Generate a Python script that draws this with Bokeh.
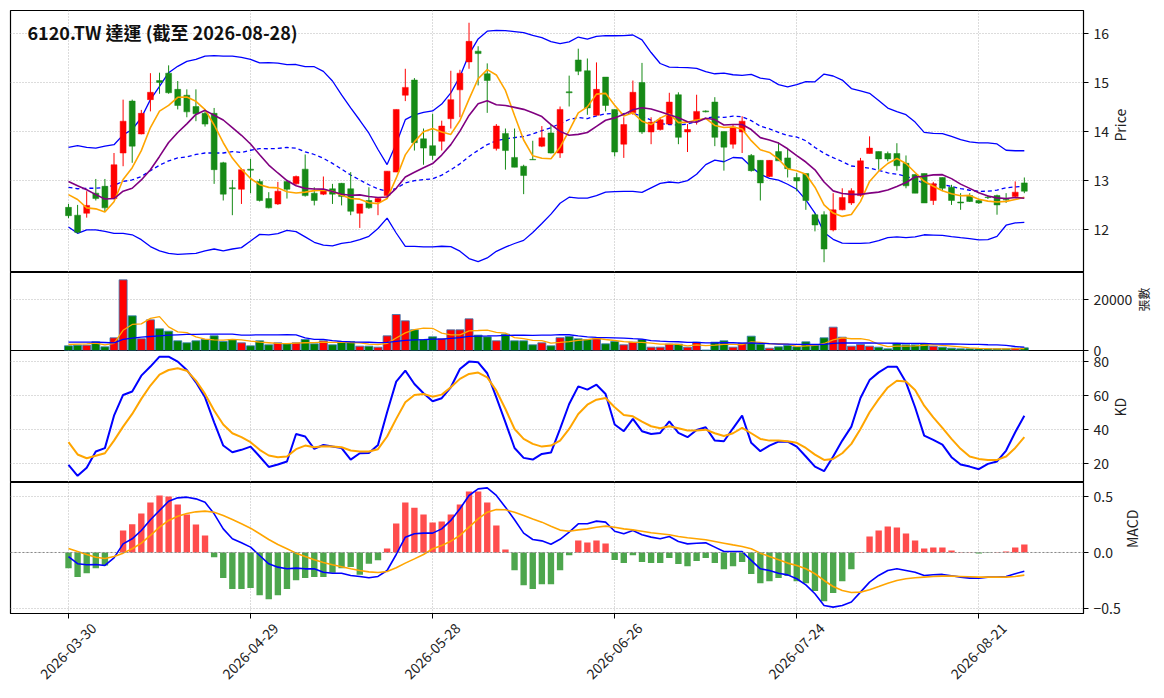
import math
import numpy as np
import pandas as pd
from bokeh.plotting import figure
from bokeh.layouts import column
from bokeh.models import (ColumnDataSource, FixedTicker, Grid, Label, Span, Range1d,
                          LinearAxis)
from bokeh.embed import file_html
from bokeh.resources import INLINE

TITLE = "6120.TW 達運 (截至 2026-08-28)"
TICK_POS = [0, 20, 40, 60, 80, 100]
TICK_LABELS = ["2026-03-30", "2026-04-29", "2026-05-28", "2026-06-26", "2026-07-24", "2026-08-21"]

OPEN = [12.45, 12.29, 12.33, 12.74, 12.88, 12.63, 13.56, 14.62, 13.95, 14.65,
        15.04, 15.19, 14.86, 14.74, 14.51, 14.37, 14.37, 13.36, 12.85, 12.82,
        13.23, 12.98, 12.63, 12.52, 12.98, 12.93, 13.23, 12.74, 12.72, 12.83,
        12.94, 12.83, 12.33, 12.59, 12.56, 12.69, 13.17, 14.74, 15.05, 13.85,
        13.71, 13.80, 14.26, 14.85, 15.42, 15.64, 15.18, 13.65, 13.96, 13.47,
        13.29, 13.43, 13.70, 13.97, 13.56, 14.81, 15.46, 15.24, 14.33, 15.11,
        14.45, 13.74, 14.38, 15.00, 13.99, 14.04, 14.15, 14.75, 13.99, 14.24,
        14.42, 14.60, 14.00, 13.74, 13.99, 13.51, 13.41, 13.08, 13.59, 13.46,
        13.06, 13.14, 12.30, 12.30, 11.99, 12.40, 12.54, 12.69, 13.55, 13.59,
        13.55, 13.55, 13.35, 13.12, 13.14, 12.59, 13.06, 12.86, 12.56, 12.69,
        12.59, 12.66, 12.69, 12.61, 12.67, 12.95]
HIGH = [12.52, 12.50, 12.78, 13.03, 13.03, 13.56, 14.65, 14.65, 14.44, 15.19,
        15.20, 15.35, 15.03, 14.86, 14.86, 14.45, 14.48, 13.38, 13.01, 13.25,
        13.44, 13.03, 12.76, 12.97, 13.01, 13.10, 13.53, 12.86, 13.08, 12.93,
        12.95, 13.17, 12.52, 12.86, 12.64, 13.19, 14.45, 15.28, 15.09, 14.06,
        14.36, 14.22, 15.24, 15.26, 16.22, 15.74, 15.39, 14.15, 14.06, 14.06,
        13.32, 13.81, 14.11, 14.15, 14.51, 15.14, 15.69, 15.49, 15.41, 15.11,
        14.45, 14.29, 15.04, 15.40, 14.29, 14.29, 14.79, 14.80, 14.15, 14.75,
        14.43, 14.70, 14.00, 14.14, 14.31, 13.54, 13.41, 13.41, 13.78, 13.65,
        13.15, 13.14, 12.33, 12.37, 12.74, 12.84, 12.84, 13.46, 13.90, 13.59,
        13.59, 13.76, 13.51, 13.12, 13.14, 12.97, 13.06, 12.91, 12.74, 12.74,
        12.63, 12.70, 12.71, 12.74, 12.98, 13.06]
LOW = [12.23, 11.92, 12.24, 12.59, 12.37, 12.61, 13.29, 13.36, 13.94, 14.41,
       14.77, 14.77, 14.45, 14.29, 14.21, 14.10, 12.93, 12.59, 12.29, 12.52,
       12.74, 12.57, 12.43, 12.50, 12.63, 12.91, 12.67, 12.49, 12.70, 12.52,
       12.49, 12.29, 12.03, 12.42, 12.29, 12.67, 13.17, 14.62, 13.61, 13.32,
       13.42, 13.61, 14.06, 14.29, 15.28, 14.94, 14.38, 13.61, 13.22, 13.27,
       12.72, 13.42, 13.68, 13.55, 13.46, 14.51, 15.15, 14.34, 14.33, 14.41,
       13.49, 13.46, 14.34, 13.95, 13.74, 14.02, 14.15, 13.74, 13.58, 14.14,
       14.39, 13.70, 13.20, 13.65, 13.56, 13.18, 12.59, 13.07, 13.40, 13.06,
       12.78, 12.40, 11.96, 11.33, 11.96, 12.39, 12.50, 12.67, 13.55, 13.22,
       13.39, 13.20, 12.84, 12.74, 12.54, 12.50, 12.78, 12.50, 12.40, 12.56,
       12.52, 12.62, 12.30, 12.54, 12.66, 12.74]
CLOSE = [12.28, 11.94, 12.49, 12.63, 12.44, 13.32, 14.21, 13.70, 14.37, 14.80,
         15.00, 14.79, 14.53, 14.40, 14.36, 14.15, 13.22, 12.72, 12.83, 13.22,
         13.21, 12.59, 12.44, 12.78, 12.82, 13.08, 12.69, 12.59, 12.81, 12.72,
         12.67, 12.37, 12.52, 12.44, 12.63, 13.19, 14.45, 14.90, 13.77, 13.66,
         13.51, 14.11, 14.65, 15.19, 15.84, 15.59, 15.04, 14.11, 13.61, 13.27,
         13.10, 13.42, 13.87, 13.56, 14.45, 14.79, 15.23, 14.48, 14.86, 14.53,
         13.58, 14.14, 14.80, 13.99, 14.19, 14.24, 14.60, 13.88, 14.04, 14.41,
         14.40, 13.88, 13.68, 14.09, 14.21, 13.20, 12.95, 13.41, 13.40, 13.24,
         12.99, 12.59, 12.09, 11.60, 12.40, 12.65, 12.79, 13.40, 13.66, 13.44,
         13.44, 13.30, 12.89, 12.74, 12.54, 12.93, 12.84, 12.59, 12.54, 12.57,
         12.54, 12.65, 12.50, 12.60, 12.76, 12.78]
VOLUME = [1820, 2080, 2080, 3380, 1430, 4940, 27540, 13510, 4550, 11950,
          8440, 7530, 3770, 2990, 3770, 4290, 5720, 3510, 4290, 2990,
          1820, 3770, 2210, 2990, 2600, 2990, 4290, 2600, 3770, 2210,
          3510, 3510, 1690, 1690, 1300, 5720, 14030, 11560, 8050, 4290,
          5330, 4550, 8050, 8050, 12340, 5980, 5330, 3770, 6370, 3770,
          3770, 2210, 2990, 1820, 5000, 5460, 4550, 4290, 4550, 2600,
          3510, 2210, 3250, 4290, 1300, 1300, 2470, 2470, 1300, 3250,
          200, 3250, 3770, 1300, 2860, 5590, 2470, 910, 1430, 1950,
          1430, 3380, 1950, 4940, 9100, 5200, 1690, 2340, 1690, 1300,
          650, 2600, 2210, 2210, 2600, 1690, 1300, 910, 650, 650,
          650, 650, 650, 650, 910, 1040]

# indicator values at the first bars of the window (their look-back lies before the chart)
MA5_START = [12.71, 12.61, 12.44, 12.42]
MA10_START = [12.98, 12.89, 12.81, 12.71, 12.62, 12.63, 12.78, 12.84, 13.01]
MA20_START = [12.86, 12.83, 12.84, 12.84, 12.86, 12.90, 12.98, 13.01, 13.08, 13.20,
              13.31, 13.40, 13.46, 13.48, 13.53, 13.56, 13.56, 13.56, 13.59]
UPPER_START = [13.675, 13.71, 13.675, 13.66, 13.70, 13.73, 13.93, 14.04, 14.28, 14.65,
               14.92, 15.20, 15.33, 15.43, 15.47, 15.54, 15.55, 15.54, 15.54]
LOWER_START = [12.05, 11.92, 11.99, 11.99, 11.96, 11.92, 11.92, 11.89, 11.79, 11.65,
               11.56, 11.51, 11.49, 11.50, 11.51, 11.56, 11.60, 11.56, 11.60]
VMA5_START = [2340, 2470, 2600, 2860]
VMA20_START = [3250, 3250, 3250, 3250, 3120, 3000, 4300, 4800, 5200, 5460,
               5720, 5980, 6120, 6250, 6320, 6370, 6370, 6370, 6370]

K_VALUES = [19.4, 13.0, 17.7, 27.2, 29.2, 48.2, 60.3, 62.3, 71.6, 76.9,
            82.7, 82.7, 79.8, 74.9, 67.7, 58.9, 44.3, 30.7, 26.8, 28.2,
            30.1, 24.3, 18.2, 19.6, 21.4, 37.5, 36.0, 28.8, 31.1, 30.1,
            29.2, 22.5, 26.2, 26.4, 31.1, 50.2, 68.1, 74.5, 66.7, 61.3,
            56.6, 58.4, 64.8, 75.5, 79.8, 79.4, 73.0, 58.9, 44.3, 29.3,
            23.5, 22.5, 25.8, 26.6, 40.5, 55.0, 65.3, 63.4, 66.3, 60.9,
            43.0, 39.1, 46.3, 39.1, 37.5, 38.1, 44.9, 38.1, 35.6, 39.8,
            41.4, 33.6, 33.2, 40.8, 48.2, 32.3, 27.4, 30.7, 33.0, 33.0,
            30.1, 24.3, 18.4, 15.7, 24.3, 33.6, 41.8, 58.5, 69.0, 73.5,
            76.8, 76.8, 67.7, 53.1, 36.5, 34.0, 31.3, 23.9, 19.6, 18.4,
            16.9, 20.0, 21.4, 27.8, 38.5, 48.2]
D_VALUES = [32.7, 25.5, 23.3, 24.7, 26.2, 33.6, 41.8, 49.2, 58.0, 65.8,
            72.2, 74.9, 75.9, 74.5, 68.7, 60.9, 51.2, 43.0, 37.9, 35.6,
            32.7, 28.2, 24.9, 23.9, 24.3, 28.6, 30.7, 29.7, 30.3, 30.1,
            29.7, 27.8, 27.2, 27.2, 28.6, 36.0, 46.3, 56.0, 60.3, 60.9,
            59.3, 60.5, 64.8, 69.7, 72.6, 73.4, 70.6, 62.8, 52.1, 40.4,
            34.6, 31.7, 30.1, 30.7, 33.6, 40.4, 49.2, 54.6, 57.5, 58.5,
            53.1, 48.6, 47.8, 44.7, 42.0, 40.8, 42.0, 40.8, 39.5, 39.5,
            40.0, 37.9, 36.3, 37.9, 41.0, 37.9, 34.6, 33.6, 33.6, 33.2,
            32.3, 29.3, 25.4, 22.3, 22.9, 26.2, 31.7, 40.4, 50.2, 57.9,
            64.7, 68.6, 68.2, 63.2, 54.0, 47.2, 41.0, 34.6, 28.8, 24.3,
            22.9, 22.3, 22.3, 24.3, 29.3, 35.6]
DIF = [-0.036, -0.10, -0.11, -0.107, -0.116, -0.048, 0.077, 0.122, 0.196, 0.292,
       0.375, 0.458, 0.488, 0.494, 0.479, 0.449, 0.345, 0.211, 0.122, 0.086,
       0.048, -0.027, -0.101, -0.131, -0.146, -0.14, -0.146, -0.146, -0.176, -0.185,
       -0.185, -0.205, -0.214, -0.226, -0.214, -0.161, -0.018, 0.137, 0.167, 0.173,
       0.173, 0.211, 0.286, 0.39, 0.509, 0.568, 0.577, 0.509, 0.405, 0.292,
       0.173, 0.116, 0.104, 0.074, 0.118, 0.182, 0.256, 0.256, 0.28, 0.271,
       0.19, 0.167, 0.196, 0.158, 0.137, 0.122, 0.143, 0.098, 0.077, 0.083,
       0.086, 0.048, 0.009, 0.009, 0.009, -0.071, -0.146, -0.161, -0.185, -0.2,
       -0.235, -0.289, -0.369, -0.473, -0.488, -0.473, -0.443, -0.354, -0.265, -0.205,
       -0.161, -0.146, -0.161, -0.176, -0.205, -0.199, -0.196, -0.208, -0.22, -0.229,
       -0.229, -0.22, -0.22, -0.214, -0.19, -0.167]
DEA = [0.036, 0.009, -0.018, -0.042, -0.054, -0.036, -0.006, 0.033, 0.083, 0.152,
       0.226, 0.286, 0.324, 0.348, 0.363, 0.369, 0.36, 0.33, 0.295, 0.256,
       0.217, 0.167, 0.116, 0.071, 0.033, -0.006, -0.036, -0.065, -0.089, -0.11,
       -0.128, -0.146, -0.161, -0.173, -0.179, -0.17, -0.137, -0.095, -0.057, -0.018,
       0.033, 0.063, 0.101, 0.152, 0.226, 0.30, 0.36, 0.384, 0.381, 0.36,
       0.33, 0.30, 0.271, 0.235, 0.20, 0.19, 0.202, 0.211, 0.226, 0.235,
       0.226, 0.211, 0.202, 0.19, 0.176, 0.167, 0.158, 0.143, 0.131, 0.122,
       0.113, 0.098, 0.083, 0.068, 0.054, 0.033, -0.006, -0.036, -0.065, -0.095,
       -0.116, -0.146, -0.19, -0.25, -0.304, -0.339, -0.357, -0.354, -0.333, -0.304,
       -0.274, -0.25, -0.235, -0.226, -0.22, -0.214, -0.211, -0.211, -0.214, -0.217,
       -0.22, -0.22, -0.22, -0.22, -0.214, -0.202]
HIST = [-0.14, -0.22, -0.185, -0.14, -0.116, 0.0, 0.196, 0.253, 0.348, 0.446,
        0.509, 0.50, 0.429, 0.339, 0.25, 0.152, -0.042, -0.229, -0.327, -0.327,
        -0.318, -0.381, -0.417, -0.381, -0.327, -0.247, -0.229, -0.22, -0.22, -0.18,
        -0.14, -0.13, -0.20, -0.10, -0.07, 0.036, 0.259, 0.446, 0.40, 0.339,
        0.268, 0.277, 0.339, 0.429, 0.545, 0.545, 0.446, 0.241, 0.027, -0.158,
        -0.292, -0.327, -0.283, -0.283, -0.158, -0.024, 0.107, 0.089, 0.107, 0.080,
        -0.068, -0.095, -0.024, -0.086, -0.095, -0.095, -0.05, -0.104, -0.122, -0.077,
        -0.05, -0.095, -0.149, -0.122, -0.086, -0.193, -0.274, -0.256, -0.229, -0.211,
        -0.256, -0.274, -0.345, -0.435, -0.363, -0.256, -0.149, 0.005, 0.143, 0.196,
        0.232, 0.223, 0.170, 0.107, 0.036, 0.045, 0.045, 0.018, 0.003, 0.002,
        -0.009, -0.003, 0.002, 0.009, 0.045, 0.071]

FONT = "Noto Sans CJK TC"
UP = "#ff0000"
DOWN = "#168a16"
VOL_UP = "#ff0000"
VOL_DOWN = "#008000"
GRID = "#b8b8b8"
TEXT = "#222222"
LABEL_SHIFT = 2.75  # rotated date labels are centred under their tick
OVERLAP = 12        # room below the volume frame for its "0" tick label


def with_start(series, start):
    arr = np.asarray(series, dtype=float).copy()
    arr[:len(start)] = start
    return arr


n = len(CLOSE)
idx = np.arange(n)
c = pd.Series(CLOSE, dtype=float)
ma5 = with_start(c.rolling(5).mean(), MA5_START)
ma10 = with_start(c.rolling(10).mean(), MA10_START)
mid = c.rolling(20).mean()
sd = c.rolling(20).std()
ma20 = with_start(mid, MA20_START)
upper = with_start(mid + 2 * sd, UPPER_START)
lower = with_start(mid - 2 * sd, LOWER_START)
v = pd.Series(VOLUME, dtype=float)
vma5 = with_start(v.rolling(5).mean(), VMA5_START)
vma20 = with_start(v.rolling(20).mean(), VMA20_START)

up = [cl >= op for op, cl in zip(OPEN, CLOSE)]
candle_color = [UP if u else DOWN for u in up]
vol_color = [VOL_UP if u else VOL_DOWN for u in up]
hist_color = ["#ff4d4d" if h >= 0 else "#4da64d" for h in HIST]

src = ColumnDataSource(dict(
    x=idx, open=OPEN, high=HIGH, low=LOW, close=CLOSE,
    top=[max(o, cc) for o, cc in zip(OPEN, CLOSE)],
    bottom=[min(o, cc) for o, cc in zip(OPEN, CLOSE)],
    ccolor=candle_color, vol=VOLUME, vcolor=vol_color,
    ma5=ma5, ma10=ma10, ma20=ma20, upper=upper, lower=lower,
    vma5=vma5, vma20=vma20, k=K_VALUES, d=D_VALUES,
    dif=DIF, dea=DEA, hist=HIST, hcolor=hist_color,
))

x_range = Range1d(-6.37, 111.5)
FRAME_W = 1073


def make_fig(frame_h, y_range, yticks, ylabel, top_border=0, bottom_border=0,
             bottom_axis=False, label_size="14px"):
    p = figure(
        frame_width=FRAME_W, frame_height=frame_h, x_range=x_range, y_range=y_range,
        output_backend="svg", toolbar_location=None, tools="",
        x_axis_location="below" if bottom_axis else None, y_axis_location="right",
        min_border_left=10, min_border_right=10, min_border_top=top_border,
        min_border_bottom=bottom_border,
        outline_line_color="black", outline_line_width=1.2, outline_line_alpha=1.0,
        background_fill_color="white", border_fill_color="white",
    )
    p.ygrid.ticker = FixedTicker(ticks=yticks)
    p.ygrid.grid_line_color = GRID
    p.ygrid.grid_line_dash = "1 2"
    p.ygrid.grid_line_width = 1
    for g in list(p.xgrid):
        g.visible = False
    p.add_layout(Grid(dimension=0, ticker=FixedTicker(ticks=TICK_POS),
                      grid_line_color=GRID, grid_line_dash="1 2", grid_line_width=1))
    ax = p.yaxis[0]
    ax.ticker = FixedTicker(ticks=yticks)
    ax.axis_label = ylabel
    ax.axis_label_text_font = FONT
    ax.axis_label_text_font_size = label_size
    ax.axis_label_text_font_style = "normal"
    ax.axis_label_text_color = TEXT
    if "axis_label_orientation" in ax.properties():
        ax.axis_label_orientation = math.pi / 2
    ax.major_label_text_font = FONT
    ax.major_label_text_font_size = "14px"
    ax.major_label_text_color = TEXT
    ax.major_tick_out = 5
    ax.major_tick_in = 0
    ax.minor_tick_out = 0
    ax.minor_tick_in = 0
    ax.axis_line_color = "black"
    ax.major_tick_line_color = "black"
    ax.axis_label_standoff = 8
    if bottom_axis:
        xa = p.xaxis[0]
        xa.ticker = FixedTicker(ticks=TICK_POS)
        xa.major_label_overrides = {t: "" for t in TICK_POS}
        xa.major_label_text_font_size = "1px"
        xa.major_label_standoff = 0
        xa.major_tick_out = 5
        xa.major_tick_in = 0
        xa.minor_tick_out = 0
        xa.minor_tick_in = 0
        xa.axis_line_color = "black"
        shifted = [t + LABEL_SHIFT for t in TICK_POS]
        xb = LinearAxis(ticker=FixedTicker(ticks=shifted),
                        major_label_overrides={s: lab for s, lab in zip(shifted, TICK_LABELS)},
                        major_label_orientation=math.pi / 4,
                        major_label_text_font=FONT, major_label_text_font_size="14px",
                        major_label_text_color=TEXT, major_label_standoff=7,
                        axis_line_color=None, major_tick_line_color=None,
                        minor_tick_line_color=None, major_tick_out=0, major_tick_in=0,
                        minor_tick_out=0, minor_tick_in=0)
        p.add_layout(xb, "below")
    return p


# ---- price panel
p1 = make_fig(262, Range1d(11.12, 16.47), [12, 13, 14, 15, 16], "Price", top_border=10)
p1.line("x", "upper", source=src, line_color="#0000ff", line_width=1.3)
p1.line("x", "lower", source=src, line_color="#0000ff", line_width=1.3)
p1.line("x", "ma20", source=src, line_color="#0000ff", line_width=1.3, line_dash="4 3")
p1.segment("x", "high", "x", "low", source=src, line_color="ccolor", line_width=1)
p1.vbar(x="x", top="top", bottom="bottom", width=0.65, source=src,
        fill_color="ccolor", line_color="ccolor", line_width=0.5)
p1.line("x", "ma5", source=src, line_color="#ffa500", line_width=1.6)
p1.line("x", "ma10", source=src, line_color="#800080", line_width=1.6)
p1.add_layout(Label(x=17, y=241, x_units="screen", y_units="screen", text=TITLE,
                    text_font=FONT, text_font_size="18px", text_font_style="bold",
                    text_color="#111111", text_baseline="middle", text_align="left"))

# ---- volume panel (its bottom border is transparent and overlaps the KD panel,
#      so the "0" label can straddle the boundary as in the reference)
p2 = make_fig(78, Range1d(0, 30400), [0, 20000], "張數", label_size="12px",
              bottom_border=OVERLAP)
p2.border_fill_alpha = 0
p2.styles = {"z-index": "2", "position": "relative"}
p2.vbar(x="x", top="vol", bottom=0, width=0.88, source=src,
        fill_color="vcolor", line_color="#2f7ab8", line_width=0.8)
p2.line("x", "vma5", source=src, line_color="#ffa500", line_width=1.3)
p2.line("x", "vma20", source=src, line_color="#0000ff", line_width=1.3)

# ---- KD panel
p3 = make_fig(132, Range1d(9.1, 86.3), [20, 40, 60, 80], "KD")
p3.margin = (-OVERLAP, 0, 0, 0)
p3.styles = {"z-index": "1", "position": "relative"}
p3.line("x", "k", source=src, line_color="#0000ff", line_width=2)
p3.line("x", "d", source=src, line_color="#ffa500", line_width=2)

# ---- MACD panel
p4 = make_fig(131, Range1d(-0.545, 0.625), [-0.5, 0.0, 0.5], "MACD",
              bottom_border=78, bottom_axis=True)
p4.yaxis[0].major_label_overrides = {-0.5: "\u22120.5", 0: "0.0", 0.5: "0.5"}
p4.vbar(x="x", top="hist", bottom=0, width=0.7, source=src,
        fill_color="hcolor", line_color=None)
p4.add_layout(Span(location=0, dimension="width", line_color="#888888",
                   line_dash="2 2", line_width=1))
p4.line("x", "dif", source=src, line_color="#0000ff", line_width=1.6)
p4.line("x", "dea", source=src, line_color="#ffa500", line_width=1.6)

layout = column(p1, p2, p3, p4, spacing=0)
open("out.html", "w").write(file_html(layout, INLINE, title="6120.TW"))
